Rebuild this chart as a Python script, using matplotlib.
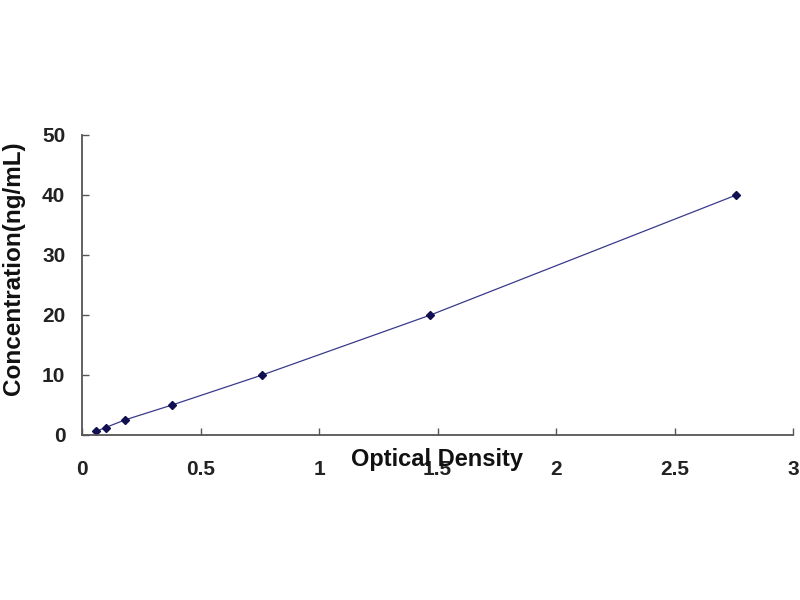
import matplotlib.pyplot as plt

# Standard curve: optical density vs concentration
optical_density = [0.06, 0.10, 0.18, 0.38, 0.76, 1.47, 2.76]
concentration = [0.625, 1.25, 2.5, 5, 10, 20, 40]

x_ticks = [0, 0.5, 1, 1.5, 2, 2.5, 3]
x_tick_labels = ['0', '0.5', '1', '1.5', '2', '2.5', '3']
y_ticks = [0, 10, 20, 30, 40, 50]

plt.rcParams['font.family'] = ['Liberation Sans', 'DejaVu Sans']

fig = plt.figure(figsize=(8, 6), dpi=100)
ax = fig.add_axes([0.1025, 0.275, 0.889, 0.5])

ax.plot(optical_density, concentration, color='#3a3a8c', linewidth=0.9,
        marker='D', markersize=4, markerfacecolor='#101050', markeredgecolor='#101050')

ax.set_xlim(0, 3)
ax.set_ylim(0, 50)
ax.set_xticks(x_ticks)
ax.set_xticklabels(x_tick_labels)
ax.set_yticks(y_ticks)

for s in ['top', 'right']:
    ax.spines[s].set_visible(False)
for s in ['left', 'bottom']:
    ax.spines[s].set_color('#555555')
    ax.spines[s].set_linewidth(1.3)

ax.tick_params(direction='in', length=5, width=1, color='#555555',
               labelsize=15, pad=12)
ax.tick_params(axis='x', pad=18)
for lbl in ax.get_xticklabels() + ax.get_yticklabels():
    lbl.set_fontweight('bold')
    lbl.set_color('#222222')

ax.set_xlabel('Optical Density', fontsize=17, fontweight='bold', color='#111111')
ax.xaxis.set_label_coords(0.499, -0.083)
ax.xaxis.label.set_verticalalignment('center')
ax.set_ylabel('Concentration(ng/mL)', fontsize=17.5, fontweight='bold', color='#111111')
ax.yaxis.set_label_coords(-0.08, 0.557)

fig.savefig('out.png', dpi=100)
